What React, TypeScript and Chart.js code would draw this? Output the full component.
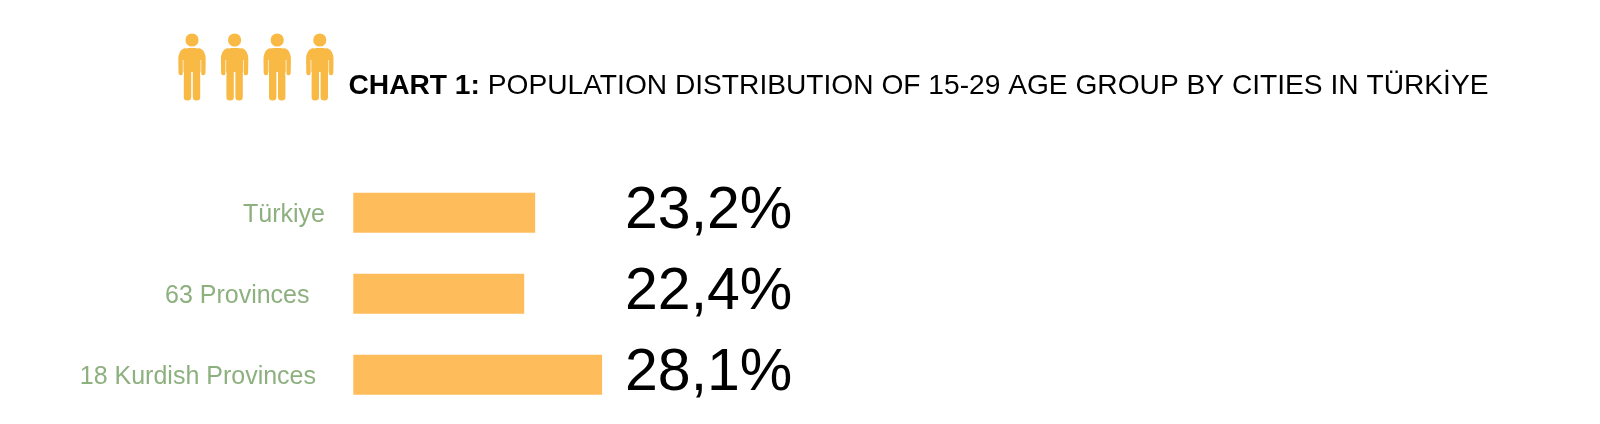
import React, { useEffect, useRef } from "react";
import { Chart, registerables } from "chart.js";

Chart.register(...registerables);

const categories = ["Türkiye", "63 Provinces", "18 Kurdish Provinces"];
const shareValues = [23.2, 22.4, 28.1];
const valueLabels = ["23,2%", "22,4%", "28,1%"];
const titleBold = "CHART 1:";
const titleRest = "POPULATION DISTRIBUTION OF 15-29 AGE GROUP BY CITIES IN TÜRKİYE";
const personCount = 4;

const FONT = '"Liberation Sans", Arial, sans-serif';
const labelRightEdges = [325, 309.5, 316];

function drawPerson(ctx: CanvasRenderingContext2D, cx: number) {
  const color = "#F8B945";
  ctx.fillStyle = color;
  ctx.strokeStyle = color;
  ctx.beginPath();
  ctx.arc(cx, 40, 6.6, 0, Math.PI * 2);
  ctx.fill();
  // torso
  ctx.beginPath();
  ctx.roundRect(cx - 9.5, 48, 19, 24, [6, 6, 0, 0]);
  ctx.fill();
  // arms
  ctx.lineWidth = 4.6;
  ctx.lineCap = "round";
  for (const s of [-1, 1]) {
    ctx.beginPath();
    ctx.moveTo(cx + s * 7, 50.5);
    ctx.quadraticCurveTo(cx + s * 11.5, 52, cx + s * 11.4, 60);
    ctx.lineTo(cx + s * 11.2, 73);
    ctx.stroke();
  }
  // legs
  ctx.beginPath();
  ctx.roundRect(cx - 8.2, 68, 7.4, 32.5, 3.5);
  ctx.roundRect(cx + 0.8, 68, 7.4, 32.5, 3.5);
  ctx.fill();
  // thin separation of arm and torso
  ctx.fillStyle = "rgba(255,255,255,0.75)";
  ctx.fillRect(cx - 9.3, 60, 0.9, 16);
  ctx.fillRect(cx + 8.4, 60, 0.9, 16);
}

const decorations = {
  id: "decorations",
  afterDraw(chart: any) {
    const { ctx, scales } = chart;
    ctx.save();
    ctx.textBaseline = "alphabetic";

    for (let i = 0; i < personCount; i++) drawPerson(ctx, 192 + i * 42.6);

    ctx.fillStyle = "#000";
    ctx.textAlign = "left";
    ctx.font = `bold 28.17px ${FONT}`;
    ctx.fillText(titleBold, 348.5, 93.5);
    const w = ctx.measureText(titleBold + " ").width;
    ctx.font = `28.17px ${FONT}`;
    ctx.fillText(titleRest, 348.5 + w, 93.5);

    categories.forEach((c, i) => {
      const y = scales.y.getPixelForValue(i);
      ctx.fillStyle = "#8DB07F";
      ctx.font = `25px ${FONT}`;
      ctx.textAlign = "right";
      ctx.fillText(c, labelRightEdges[i], y + 9);
      ctx.fillStyle = "#000";
      ctx.font = `59px ${FONT}`;
      ctx.textAlign = "left";
      ctx.fillText(valueLabels[i], 625, y + 15.5);
    });
    ctx.restore();
  },
};

export default function App() {
  const ref = useRef<HTMLCanvasElement>(null);
  useEffect(() => {
    const chart = new Chart(ref.current!, {
      type: "bar",
      data: {
        labels: categories,
        datasets: [
          {
            data: shareValues,
            backgroundColor: "#FFBC5A",
            borderWidth: 0,
            barThickness: 39.3,
          },
        ],
      },
      options: {
        indexAxis: "y",
        animation: false,
        responsive: false,
        layout: { padding: { left: 353.3, right: 835.7, top: 172.2, bottom: 8.8 } },
        plugins: { legend: { display: false }, title: { display: false }, tooltip: { enabled: false } },
        scales: {
          x: { display: false, min: 9.91, max: 40 },
          y: { display: false },
        },
      },
      plugins: [decorations],
    });
    return () => chart.destroy();
  }, []);
  return (
    <div style={{ position: "fixed", left: 0, top: 0, width: 1600, height: 424, background: "#fff" }}>
      <canvas ref={ref} width={1600} height={424} style={{ display: "block" }} />
    </div>
  );
}
